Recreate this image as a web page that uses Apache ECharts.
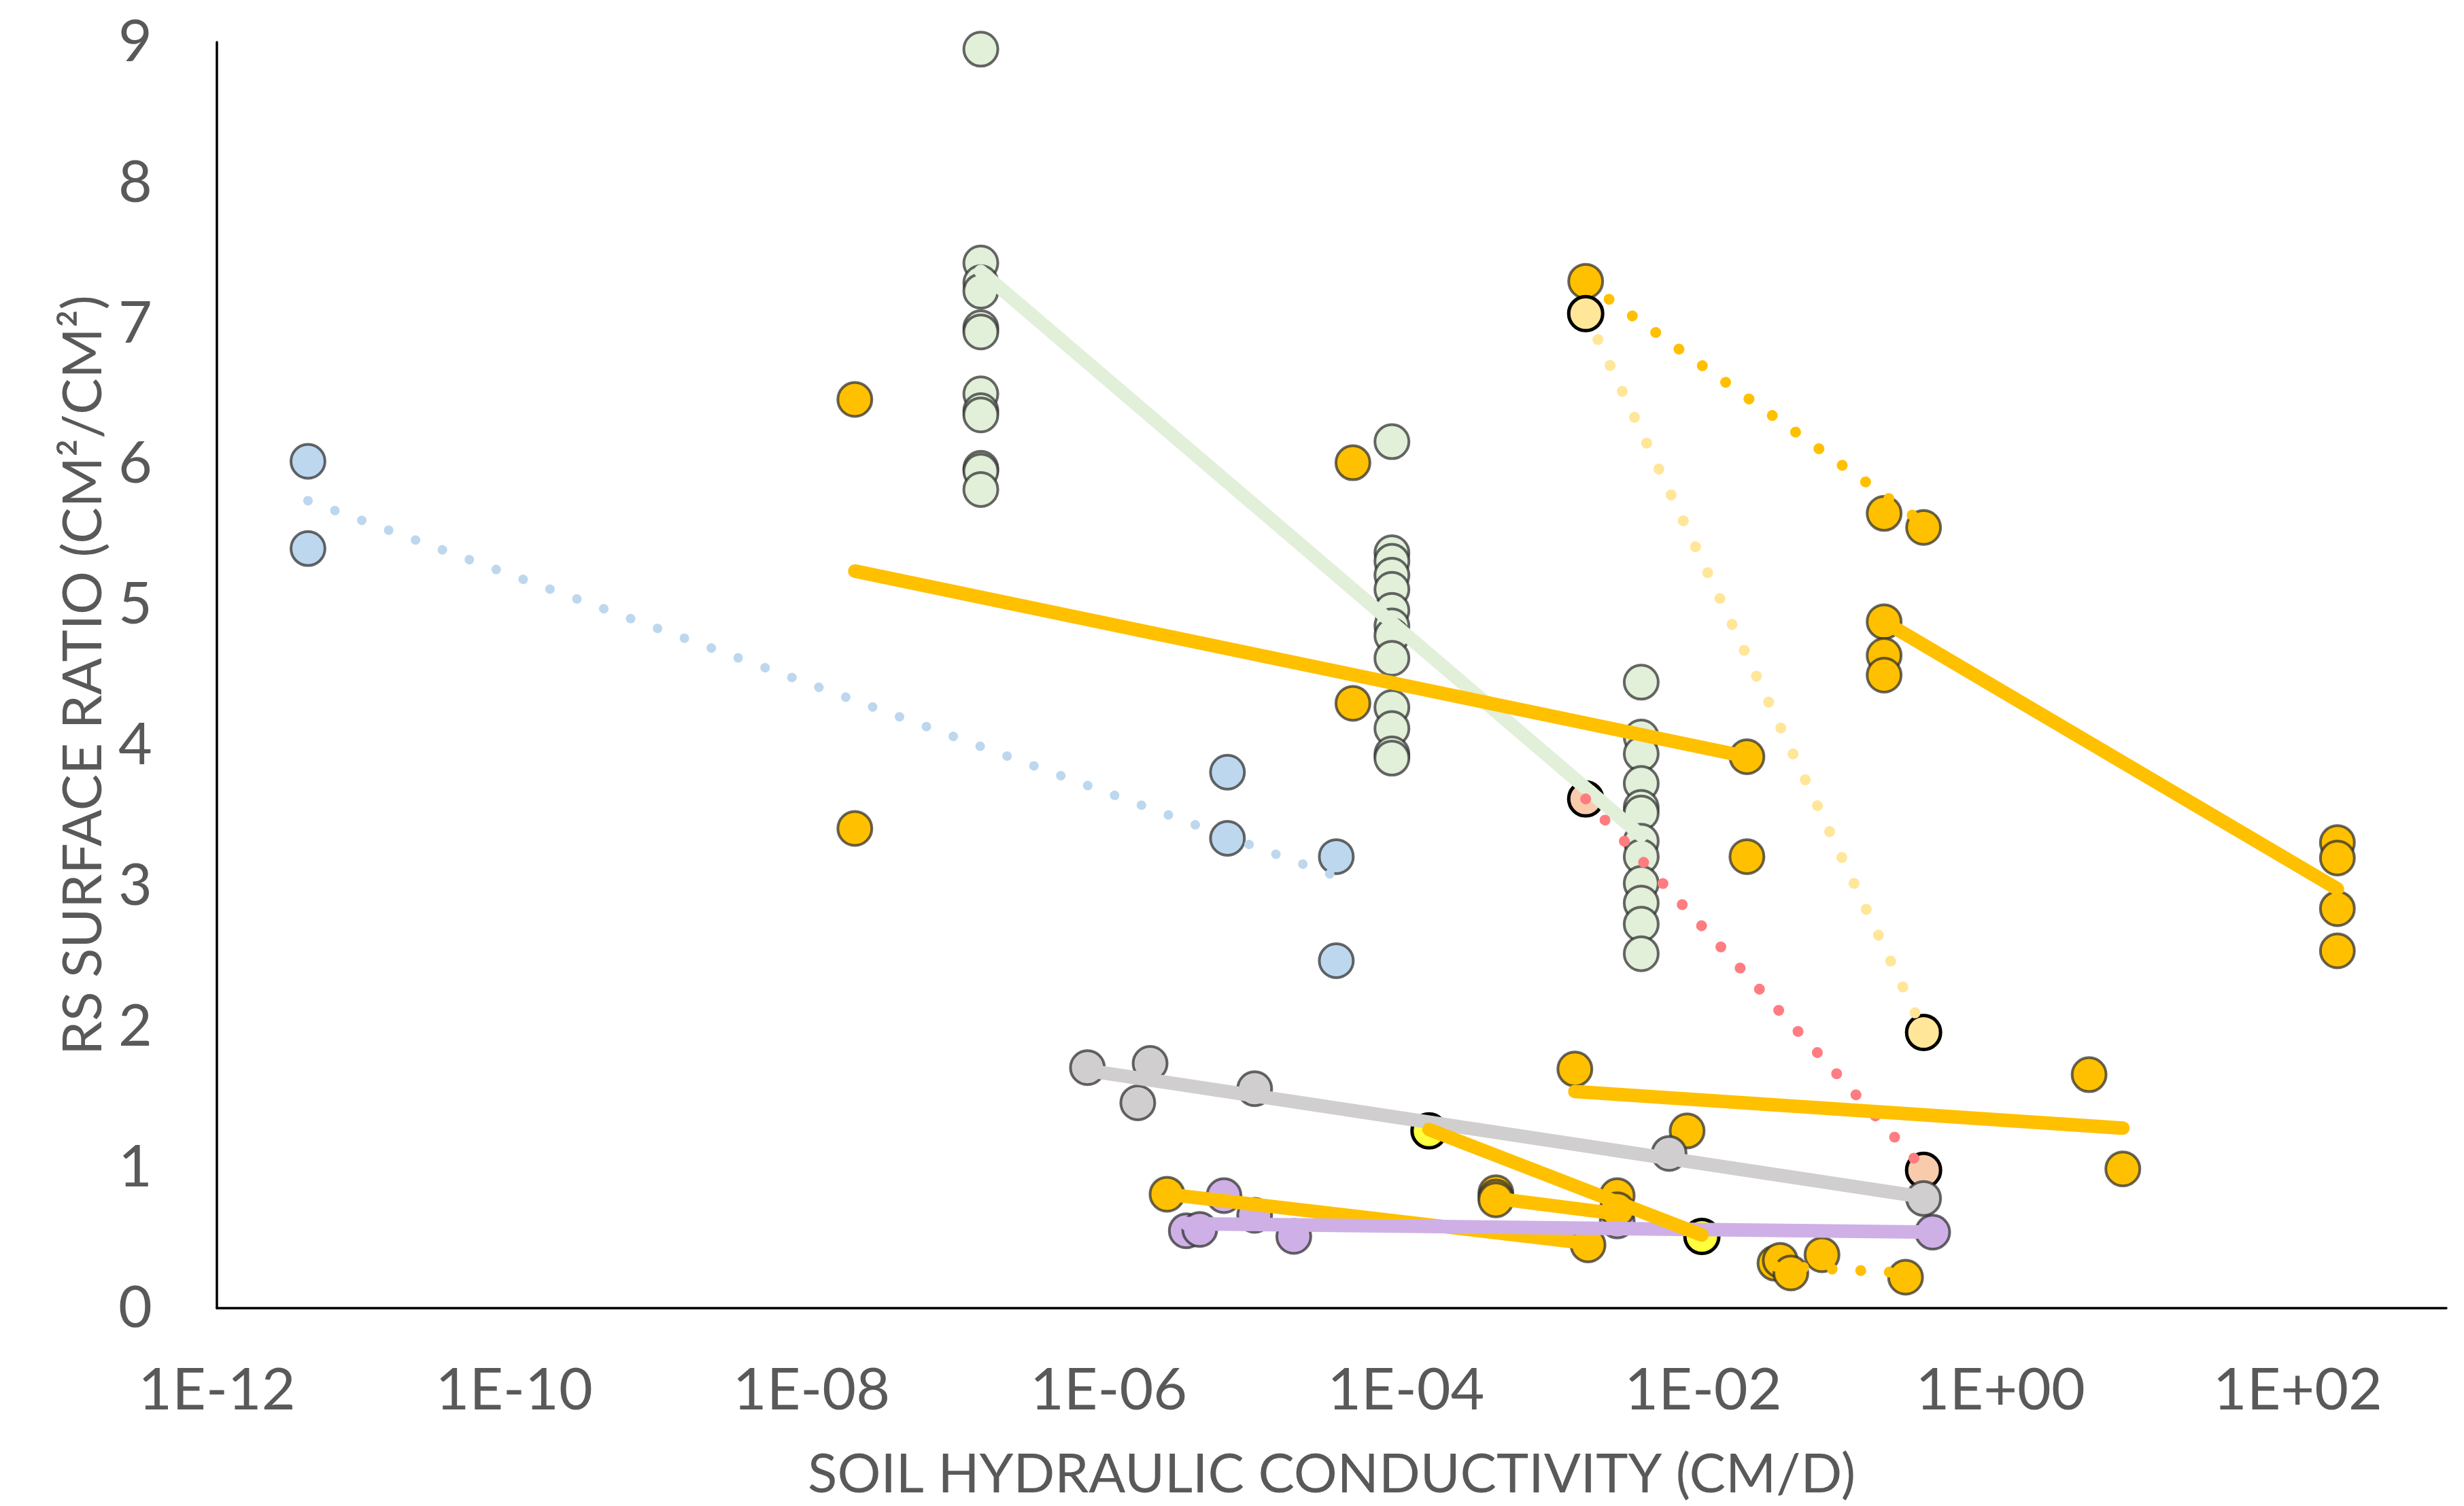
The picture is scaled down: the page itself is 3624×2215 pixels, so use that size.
<!DOCTYPE html>
<html><head><meta charset="utf-8">
<script src="https://cdn.jsdelivr.net/npm/echarts@6/dist/echarts.min.js"></script>
<style>html,body{margin:0;padding:0;background:#fff}#c{width:3624px;height:2215px}</style>
</head><body><div id="c"></div>
<script>
// ---- data (K in cm/d, ratio in cm2/cm2) ----
const blueK = [4.1e-12, 4.1e-12, 6.3e-6, 6.3e-6, 3.4e-5, 3.4e-5];
const blueR = [6.02, 5.40, 3.81, 3.34, 3.21, 2.47];
const blueTrendK = [4.1e-12, 3.4e-5];
const blueTrendR = [5.74, 3.07];

const greenK = [1.38e-7,1.38e-7,1.38e-7,1.38e-7,1.38e-7,1.38e-7,1.38e-7,1.38e-7,1.38e-7,1.38e-7,1.38e-7,1.38e-7,
  8.05e-5,8.05e-5,8.05e-5,8.05e-5,8.05e-5,8.05e-5,8.05e-5,8.05e-5,8.05e-5,8.05e-5,8.05e-5,8.05e-5,8.05e-5,
  3.83e-3,3.83e-3,3.83e-3,3.83e-3,3.83e-3,3.83e-3,3.83e-3,3.83e-3,3.83e-3,3.83e-3,3.83e-3,3.83e-3];
const greenR = [8.95,7.43,7.29,7.23,6.97,6.94,6.50,6.38,6.35,5.97,5.95,5.82,
  6.16,5.37,5.31,5.21,5.11,4.96,4.85,4.78,4.62,4.27,4.12,3.94,3.91,
  4.45,4.06,3.94,3.73,3.56,3.52,3.32,3.21,3.02,2.88,2.73,2.52];
const greenTrendK = [1.38e-7, 3.83e-3];
const greenTrendR = [7.37, 3.36];

const goldAK = [1.96e-8, 1.96e-8, 4.4e-5, 4.4e-5, 0.0197, 0.0197];
const goldAR = [6.46, 3.41, 6.01, 4.30, 3.92, 3.21];
const goldATrendK = [1.96e-8, 0.0197];
const goldATrendR = [5.24, 3.92];

const goldBK = [1.62e-3, 0.165, 0.304];
const goldBR = [7.30, 5.65, 5.55];
const goldBTrendK = [1.62e-3, 0.304];
const goldBTrendR = [7.29, 5.58];

const lightYK = [1.62e-3, 0.304];
const lightYR = [7.07, 1.96];
const lightYTrendK = [1.62e-3, 0.304];
const lightYTrendR = [7.07, 1.97];

const peachK = [1.62e-3, 0.304];
const peachR = [3.62, 0.98];
const peachTrendK = [1.62e-3, 0.304];
const peachTrendR = [3.62, 0.99];

const goldCK = [0.165, 0.165, 0.165, 185, 185, 185, 185];
const goldCR = [4.88, 4.64, 4.50, 3.31, 3.20, 2.84, 2.54];
const goldCTrendK = [0.165, 185];
const goldCTrendR = [4.88, 2.98];

const goldDK = [1.37e-3, 7.8e-3, 3.95, 6.66];
const goldDR = [1.70, 1.26, 1.66, 0.99];
const goldDTrendK = [1.37e-3, 6.66];
const goldDTrendR = [1.54, 1.28];

const grayK = [7.2e-7, 1.9e-6, 1.57e-6, 9.6e-6, 5.9e-3, 0.304];
const grayR = [1.71, 1.74, 1.46, 1.56, 1.10, 0.78];
const grayTrendK = [7.2e-7, 0.304];
const grayTrendR = [1.69, 0.79];

const purpleK = [3.33e-6, 4.1e-6, 5.97e-6, 9.6e-6, 1.76e-5, 2.64e-3, 0.35];
const purpleR = [0.55, 0.56, 0.80, 0.66, 0.51, 0.62, 0.54];
const purpleTrendK = [3.33e-6, 0.35];
const purpleTrendR = [0.60, 0.54];

const goldEK = [2.47e-6, 1.68e-3];
const goldER = [0.81, 0.45];
const goldETrendK = [2.47e-6, 1.68e-3];
const goldETrendR = [0.81, 0.46];

const yellowK = [1.43e-4, 9.8e-3];
const yellowR = [1.26, 0.51];
const yellowTrendK = [1.43e-4, 9.8e-3];
const yellowTrendR = [1.27, 0.52];

const goldFK = [4.03e-4, 4.03e-4, 4.03e-4, 2.64e-3, 2.64e-3];
const goldFR = [0.82, 0.79, 0.77, 0.80, 0.70];
const goldFTrendK = [4.03e-4, 2.64e-3];
const goldFTrendR = [0.78, 0.67];

const goldGK = [0.0304, 0.033, 0.0389, 0.063, 0.23];
const goldGR = [0.32, 0.34, 0.25, 0.38, 0.22];
const goldGTrendK = [0.0304, 0.23];
const goldGTrendR = [0.30, 0.25];

const xTickValues = [1e-12, 1e-10, 1e-8, 1e-6, 1e-4, 1e-2, 1e0, 1e2];
const xTickLabels = ['1E-12', '1E-10', '1E-08', '1E-06', '1E-04', '1E-02', '1E+00', '1E+02'];
const yTicks = [0,1,2,3,4,5,6,7,8,9];

// ---- build ----
const zip = (a, b) => a.map((v, i) => [v, b[i]]);
const TXT = '#595959';
const FONT = 'Lato';
const GOLD = '#ffc000';
const series = [];
function pts(name, K, R, fill, border, bw) {
  series.push({ name, type: 'scatter', data: zip(K, R), symbol: 'circle', symbolSize: 50, z: 2,
    itemStyle: { color: fill, borderColor: border, borderWidth: bw, opacity: 1 }, emphasis: { disabled: true } });
}
function trend(name, K, R, color, width, dotted) {
  series.push({ name, type: 'line', data: zip(K, R), showSymbol: false, symbol: 'none', z: 3, silent: true,
    lineStyle: { color, width, cap: 'round', type: dotted ? [0.1, 42] : 'solid' } });
}
const NB = 'rgba(45,45,45,0.72)';
pts('blue', blueK, blueR, '#bdd7ee', NB, 4);
pts('green', greenK, greenR, '#e2efd9', NB, 4);
pts('goldA', goldAK, goldAR, GOLD, NB, 4);
pts('goldB', goldBK, goldBR, GOLD, NB, 4);
pts('lightYellow', lightYK, lightYR, '#ffe699', '#000', 5);
pts('peach', peachK, peachR, '#f8cbad', '#000', 5);
pts('goldC', goldCK, goldCR, GOLD, NB, 4);
pts('goldD', goldDK, goldDR, GOLD, NB, 4);
pts('purple', purpleK, purpleR, '#ceb0e6', NB, 4);
pts('gray', grayK, grayR, '#d0cece', NB, 4);
pts('goldE', goldEK, goldER, GOLD, NB, 4);
pts('goldF', goldFK, goldFR, GOLD, NB, 4);
pts('yellow', yellowK, yellowR, '#ffff40', '#000', 5);
pts('goldG', goldGK, goldGR, GOLD, NB, 4);

trend('blueT', blueTrendK, blueTrendR, '#bdd7ee', 14, true);
trend('greenT', greenTrendK, greenTrendR, '#e2efd9', 20, false);
trend('goldAT', goldATrendK, goldATrendR, GOLD, 20, false);
trend('goldBT', goldBTrendK, goldBTrendR, GOLD, 16, true);
trend('lightYT', lightYTrendK, lightYTrendR, '#ffe699', 16, true);
trend('peachT', peachTrendK, peachTrendR, '#ff7c80', 16, true);
trend('goldCT', goldCTrendK, goldCTrendR, GOLD, 20, false);
trend('goldDT', goldDTrendK, goldDTrendR, GOLD, 20, false);
trend('goldET', goldETrendK, goldETrendR, GOLD, 20, false);
trend('goldFT', goldFTrendK, goldFTrendR, GOLD, 20, false);
trend('purpleT', purpleTrendK, purpleTrendR, '#ceb0e6', 20, false);
trend('grayT', grayTrendK, grayTrendR, '#d0cece', 20, false);
trend('yellowT', yellowTrendK, yellowTrendR, GOLD, 20, false);
trend('goldGT', goldGTrendK, goldGTrendR, GOLD, 16, true);

const labelFor = v => {
  let best = 0, bd = Infinity;
  xTickValues.forEach((t, i) => { const d = Math.abs(Math.log10(t) - Math.log10(v)); if (d < bd) { bd = d; best = i; } });
  return bd < 0.01 ? xTickLabels[best] : '';
};

const chart = echarts.init(document.getElementById('c'), null, { renderer: 'canvas' });
chart.setOption({
  animation: false,
  backgroundColor: '#fff',
  grid: { left: 319, right: 26, top: 62, bottom: 291, containLabel: false },
  xAxis: {
    type: 'log', logBase: 10, min: 1e-12, max: 1e3, splitNumber: 15,
    name: 'SOIL HYDRAULIC CONDUCTIVITY (CM/D)', nameLocation: 'middle', nameGap: 205,
    nameTextStyle: { fontFamily: FONT, fontSize: 80, color: TXT },
    axisLine: { show: true, onZero: false, lineStyle: { color: '#000', width: 3.5 } },
    axisTick: { show: false }, splitLine: { show: false }, minorTick: { show: false },
    axisLabel: { fontFamily: FONT, fontSize: 86, color: TXT, margin: 78, hideOverlap: false,
      customValues: xTickValues, showMinLabel: true, showMaxLabel: true, formatter: labelFor }
  },
  yAxis: {
    type: 'value', min: yTicks[0], max: yTicks[yTicks.length - 1], interval: 1,
    name: 'RS SURFACE RATIO (CM²/CM²)', nameLocation: 'middle', nameGap: 156,
    nameTextStyle: { fontFamily: FONT, fontSize: 80, color: TXT },
    axisLine: { show: true, lineStyle: { color: '#000', width: 3.5 } },
    axisTick: { show: false }, splitLine: { show: false },
    axisLabel: { fontFamily: FONT, fontSize: 86, color: TXT, margin: 95 }
  },
  series
});
</script></body></html>
